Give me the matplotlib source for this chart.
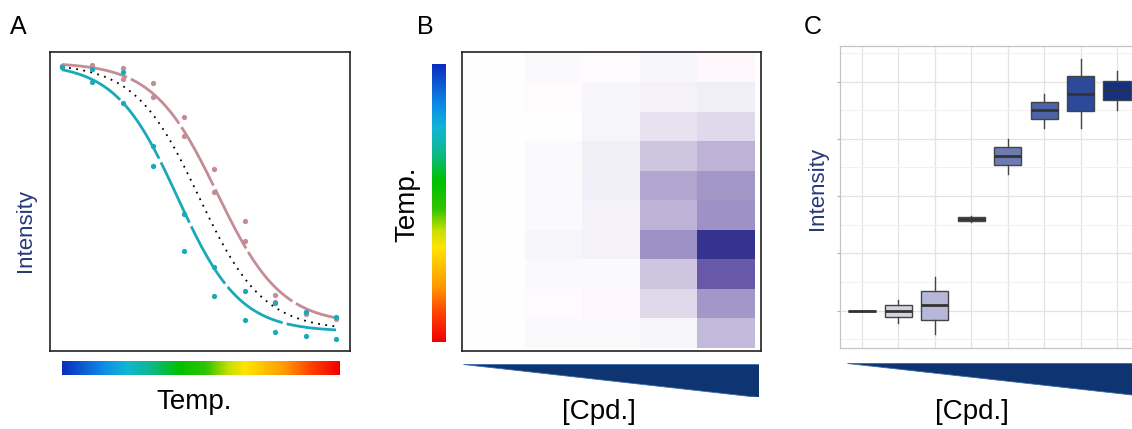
import numpy as np
import matplotlib
matplotlib.use('Agg')
import matplotlib.pyplot as plt
from matplotlib.colors import LinearSegmentedColormap

plt.rcParams['font.family'] = ['Liberation Sans', 'DejaVu Sans']

# ---- dados painel A (curvas de melting) ----
temp_idx = [0, 1, 2, 3, 4, 5, 6, 7, 8, 9]
pink_rep1 = [0.953, 0.957, 0.946, 0.896, 0.783, 0.609, 0.435, 0.187, 0.130, 0.110]
pink_rep2 = [0.953, 0.943, 0.910, 0.849, 0.719, 0.532, 0.368, 0.164, 0.125, 0.107]
cyan_rep1 = [0.950, 0.943, 0.933, 0.686, 0.458, 0.281, 0.201, 0.161, 0.130, 0.114]
cyan_rep2 = [0.950, 0.900, 0.829, 0.619, 0.334, 0.184, 0.104, 0.064, 0.050, 0.040]
# parametros do ajuste sigmoide: topo, base, ponto medio, inclinacao
pink_fit = [0.965, 0.090, 5.10, 0.95]
cyan_fit = [0.962, 0.065, 3.80, 0.98]
ref_fit = [0.962, 0.070, 4.50, 0.95]

# ---- dados painel B (heatmap, linhas = temperatura, colunas = [Cpd.]) ----
heat_values = [
    [0, 0.03, -0.03, 0.05, -0.04],
    [0, -0.02, 0.05, 0.07, 0.09],
    [0, 0.00, 0.05, 0.15, 0.20],
    [0, 0.03, 0.08, 0.30, 0.40],
    [0, 0.03, 0.09, 0.47, 0.56],
    [0, 0.03, 0.07, 0.40, 0.60],
    [0, 0.05, 0.07, 0.60, 1.00],
    [0, 0.03, 0.03, 0.30, 0.82],
    [0, -0.03, -0.05, 0.20, 0.56],
    [0, 0.03, 0.03, 0.05, 0.37],
]

# ---- dados painel C (boxplots) ----
box_pos = [1, 2, 3, 4, 5, 6, 7, 8]
box_whislo = [0.00, -0.22, -0.41, 1.55, 2.39, 3.19, 3.19, 3.51]
box_q1 = [0.00, -0.11, -0.17, 1.56, 2.54, 3.34, 3.49, 3.67]
box_med = [0.00, 0.00, 0.10, 1.60, 2.70, 3.50, 3.79, 3.86]
box_q3 = [0.00, 0.10, 0.35, 1.64, 2.85, 3.65, 4.10, 4.01]
box_whishi = [0.00, 0.19, 0.59, 1.66, 3.00, 3.79, 4.39, 4.18]
box_colors = ['#d4d4e0', '#d4d4e0', '#b7b8d8', '#8a8fb8', '#6d7bb3', '#4e63a6', '#2c4a99', '#15307f']

W, H = 1132, 429
fig = plt.figure(figsize=(W / 100, H / 100), dpi=100)


def px_axes(left, top, right, bottom):
    return fig.add_axes([left / W, 1 - bottom / H, (right - left) / W, (bottom - top) / H])


def sigmoid(x, p):
    return p[1] + (p[0] - p[1]) / (1 + np.exp(p[3] * (x - p[2])))


rainbow = LinearSegmentedColormap.from_list('arco', [
    (0.0, '#0b2dbf'), (0.15, '#0d8de6'), (0.23, '#12b5d6'), (0.32, '#0fb88a'),
    (0.42, '#00c000'), (0.52, '#30c400'), (0.6, '#c8e000'), (0.66, '#ffe400'),
    (0.8, '#ff9a00'), (0.9, '#ff4000'), (1.0, '#f00000')])
navy = '#27397a'
pink = '#c48c95'
cyan = '#19a9b8'

# ================= Painel A =================
axA = px_axes(50, 52, 350, 351)
xs = np.linspace(0, 9, 300)
axA.plot(xs, sigmoid(xs, ref_fit), color='black', lw=1.3, linestyle=(0, (1, 3)))
axA.plot(xs, sigmoid(xs, pink_fit), color=pink, lw=2, linestyle=(0, (24, 1.5)))
axA.plot(xs, sigmoid(xs, cyan_fit), color=cyan, lw=2, linestyle=(0, (24, 1.5)))
for rep in (pink_rep1, pink_rep2):
    axA.plot(temp_idx, rep, 'o', color=pink, ms=3.8, mec='none')
for rep in (cyan_rep1, cyan_rep2):
    axA.plot(temp_idx, rep, 'o', color=cyan, ms=3.8, mec='none')
axA.set_xlim(-0.39, 9.46)
axA.set_ylim(0, 1)
axA.set_xticks([])
axA.set_yticks([])
for s in axA.spines.values():
    s.set_linewidth(1.2)
    s.set_color('#222222')

cbA = px_axes(62, 361, 340, 375)
cbA.imshow(np.linspace(0, 1, 256)[None, :], cmap=rainbow, aspect='auto')
cbA.axis('off')

fig.text(18 / W, 1 - 27 / H, 'A', fontsize=18, ha='center', va='center')
fig.text(26 / W, 1 - 231 / H, 'Intensity', fontsize=16, color=navy, rotation=90,
         ha='center', va='center')
fig.text(194 / W, 1 - 402 / H, 'Temp.', fontsize=20, ha='center', va='center')

# ================= Painel B =================
heat_cmap = LinearSegmentedColormap.from_list('heat', [
    (0.0, '#ff50c8'), (0.5, '#ffffff'), (0.7, '#bfb4d8'), (0.8, '#9d91c5'),
    (0.91, '#6759a7'), (1.0, '#34348e')])
axB = px_axes(462, 52, 761, 351)
axB.imshow(np.array(heat_values), cmap=heat_cmap, vmin=-1, vmax=1, aspect='auto',
           extent=[-0.5, 4.5, 9.5, -0.5], interpolation='nearest')
axB.set_xlim(-0.58, 4.62)
axB.set_ylim(9.59, -0.58)
axB.set_xticks([])
axB.set_yticks([])
for s in axB.spines.values():
    s.set_linewidth(1.2)
    s.set_color('#222222')

cbB = px_axes(432, 64, 446, 342)
cbB.imshow(np.linspace(0, 1, 256)[:, None], cmap=rainbow, aspect='auto')
cbB.axis('off')

wedgeB = px_axes(463, 364, 759, 397)
wedgeB.fill([0, 1, 1], [1, 1, 0], color='#0e3572', ec='#3a6aa8', lw=0.6)
wedgeB.set_xlim(0, 1)
wedgeB.set_ylim(0, 1)
wedgeB.axis('off')

fig.text(425 / W, 1 - 27 / H, 'B', fontsize=18, ha='center', va='center')
fig.text(407 / W, 1 - 204 / H, 'Temp.', fontsize=20, rotation=90, ha='center', va='center')
fig.text(599 / W, 1 - 412 / H, '[Cpd.]', fontsize=20, ha='center', va='center')

# ================= Painel C =================
axC = px_axes(840, 46, 1139, 348)
stats = []
for i in range(len(box_pos)):
    stats.append(dict(med=box_med[i], q1=box_q1[i], q3=box_q3[i],
                      whislo=box_whislo[i], whishi=box_whishi[i], fliers=[]))
bp = axC.bxp(stats, positions=box_pos, widths=0.75, patch_artist=True,
             showfliers=False, showcaps=False,
             boxprops=dict(edgecolor='#444444', linewidth=1.0),
             whiskerprops=dict(color='#444444', linewidth=1.0),
             medianprops=dict(color='#333333', linewidth=2.0))
for patch, c in zip(bp['boxes'], box_colors):
    patch.set_facecolor(c)
axC.set_xlim(0.4, 8.6)
axC.set_ylim(-0.65, 4.62)
axC.set_xticks(box_pos)
axC.set_yticks([0, 1, 2, 3, 4])
axC.set_yticks([-0.5, 0.5, 1.5, 2.5, 3.5, 4.5], minor=True)
axC.grid(which='major', color='#e3e3e3', lw=0.9)
axC.grid(which='minor', axis='y', color='#f1f1f1', lw=0.7)
axC.set_axisbelow(True)
axC.tick_params(axis='x', length=0, labelbottom=False)
axC.tick_params(axis='y', which='major', length=2.5, color='#b3b3b3', labelleft=False)
axC.tick_params(axis='y', which='minor', length=0)
for s in axC.spines.values():
    s.set_linewidth(0.9)
    s.set_color('#c4c4c4')

wedgeC = px_axes(847, 363, 1145, 396)
wedgeC.fill([0, 1, 1], [1, 1, 0], color='#0e3572', ec='#3a6aa8', lw=0.6)
wedgeC.set_xlim(0, 1)
wedgeC.set_ylim(0, 1)
wedgeC.axis('off')

fig.text(813 / W, 1 - 27 / H, 'C', fontsize=18, ha='center', va='center')
fig.text(817 / W, 1 - 188 / H, 'Intensity', fontsize=16, color=navy, rotation=90,
         ha='center', va='center')
fig.text(972 / W, 1 - 412 / H, '[Cpd.]', fontsize=20, ha='center', va='center')

fig.savefig('out.png', dpi=100)
